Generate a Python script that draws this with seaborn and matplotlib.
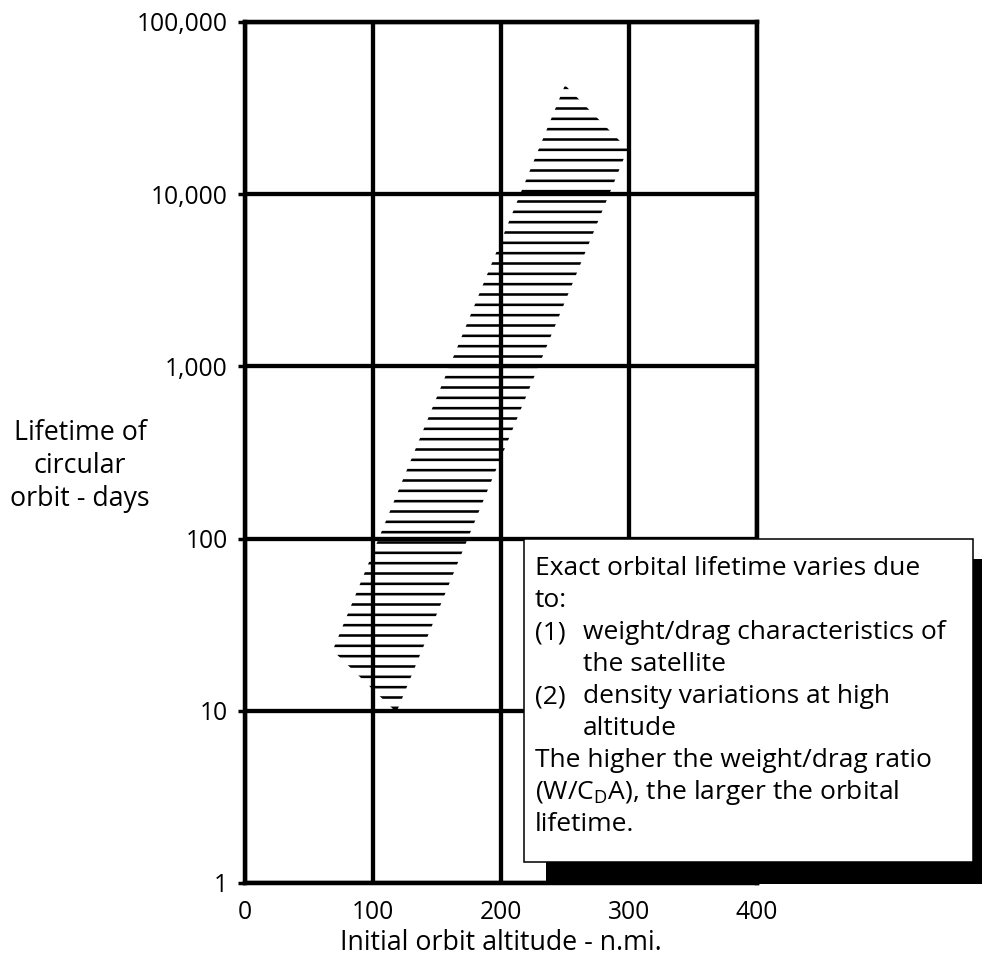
import matplotlib
matplotlib.use("Agg")
import matplotlib.pyplot as plt
import seaborn as sns
from matplotlib.patches import Rectangle
from matplotlib.ticker import NullLocator, FixedLocator, FixedFormatter

# ---------------- data ----------------
band_altitude_nmi = [250, 68.5, 118.3, 299, 250]
band_lifetime_days = [43000, 22.4, 9.8, 18300, 43000]

x_ticks = [0, 100, 200, 300, 400]
x_tick_labels = ["0", "100", "200", "300", "400"]
y_ticks = [1, 10, 100, 1000, 10000, 100000]
y_tick_labels = ["1", "10", "100", "1,000", "10,000", "100,000"]

x_label = "Initial orbit altitude - n.mi."
y_label = "Lifetime of\ncircular\norbit - days"

note_lines = [
    ("", "Exact orbital lifetime varies due"),
    ("", "to:"),
    ("(1)", "weight/drag characteristics of"),
    ("", "    the satellite"),
    ("(2)", "density variations at high"),
    ("", "    altitude"),
    ("", "The higher the weight/drag ratio"),
    ("", r"(W/C$_{\mathregular{D}}$A), the larger the orbital"),
    ("", "lifetime."),
]

# ---------------- style ----------------
sns.set_theme(style="white")
plt.rcParams["font.family"] = ["Open Sans", "DejaVu Sans"]
plt.rcParams["mathtext.fontset"] = "custom"
plt.rcParams["mathtext.rm"] = "Open Sans"
plt.rcParams["hatch.linewidth"] = 1.5
plt.rcParams["hatch.color"] = "black"

W, H = 982, 961
DPI = 124
fig = plt.figure(figsize=(W / DPI, H / DPI), dpi=DPI)
fig.patch.set_facecolor("white")

ax = fig.add_axes([245 / W, 1 - 883 / H, 512 / W, 861 / H])
ax.set_facecolor("white")
ax.set_yscale("log")
ax.set_xlim(0, 400)
ax.set_ylim(1, 100000)

# hatched band
ax.fill(band_altitude_nmi, band_lifetime_days, facecolor="none",
        edgecolor="black", hatch="--", linewidth=0, zorder=3)

ax.xaxis.set_major_locator(FixedLocator(x_ticks))
ax.xaxis.set_major_formatter(FixedFormatter(x_tick_labels))
ax.yaxis.set_major_locator(FixedLocator(y_ticks))
ax.yaxis.set_major_formatter(FixedFormatter(y_tick_labels))
ax.yaxis.set_minor_locator(NullLocator())
ax.xaxis.set_minor_locator(NullLocator())

ax.grid(True, which="major", color="black", linewidth=2.5, zorder=2)
ax.set_axisbelow(True)
sns.despine(ax=ax, top=False, right=False, left=False, bottom=False)
for s in ax.spines.values():
    s.set_visible(True)
    s.set_color("black")
    s.set_linewidth(2.6)
    s.set_zorder(4)

ax.tick_params(axis="y", which="major", length=4, width=2, direction="out",
               pad=6, labelsize=14.3, colors="black", left=True)
ax.tick_params(axis="x", which="major", length=0, pad=10, labelsize=14.3,
               colors="black")

ax.set_xlabel(x_label, fontsize=15.5, color="black")
ax.xaxis.set_label_coords(0.5, (883 - 929) / 861)
ax.set_ylabel(y_label, fontsize=15.5, color="black", rotation=0,
              ha="center", va="center", linespacing=1.22)
ax.yaxis.set_label_coords((80 - 245) / 512, (883 - 466) / 861)

# annotation box with drop shadow
fig.add_artist(Rectangle((546 / W, 1 - 884 / H), (1000 - 546) / W, (884 - 559) / H,
                         transform=fig.transFigure, facecolor="black",
                         edgecolor="none", zorder=5))
fig.add_artist(Rectangle((524 / W, 1 - 862 / H), (973 - 524) / W, (862 - 539) / H,
                         transform=fig.transFigure, facecolor="white",
                         edgecolor="black", linewidth=0.9, zorder=6))

FS = 15.3
for i, (num, txt) in enumerate(note_lines):
    yb = 575 + 32 * i
    if num:
        fig.text(535 / W, 1 - yb / H, num, ha="left", va="baseline",
                 fontsize=FS, color="black", zorder=7)
        fig.text(583 / W, 1 - yb / H, txt, ha="left", va="baseline",
                 fontsize=FS, color="black", zorder=7)
    elif txt.startswith("    "):
        fig.text(583 / W, 1 - yb / H, txt.strip(), ha="left", va="baseline",
                 fontsize=FS, color="black", zorder=7)
    else:
        fig.text(535 / W, 1 - yb / H, txt, ha="left", va="baseline",
                 fontsize=FS, color="black", zorder=7)

fig.savefig("out.png", dpi=DPI, facecolor="white")
